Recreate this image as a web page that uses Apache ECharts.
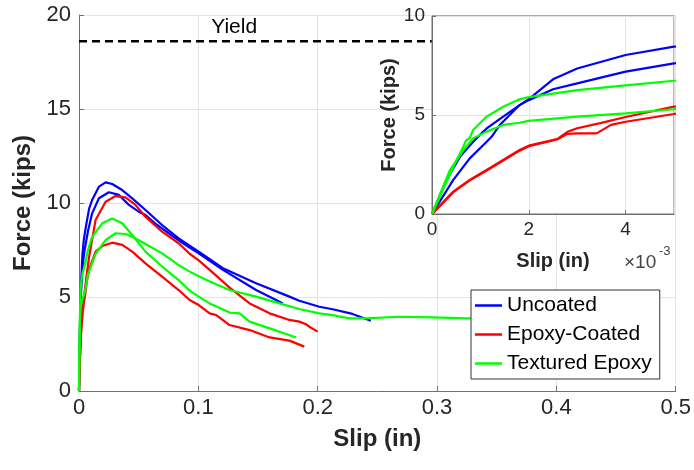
<!DOCTYPE html>
<html>
<head>
<meta charset="utf-8">
<script src="https://cdn.jsdelivr.net/npm/echarts@6/dist/echarts.min.js"></script>
<style>html,body{margin:0;padding:0;background:#fff}#c{width:694px;height:470px}</style>
</head>
<body>
<div id="c"></div>
<script>
// ---- data: [slip (in), force (kips)] ----
const uncoated1 = [[0,0],[0.00044,1.72],[0.00078,2.81],[0.00113,3.65],[0.00123,3.9],[0.0014,4.49],[0.00181,5.5],[0.002,5.8],[0.0025,6.8],[0.003,7.35],[0.004,8.03],[0.005,8.45],[0.0065,9.0],[0.0085,9.7],[0.011,10.16],[0.0167,10.87],[0.0223,11.1],[0.0278,11.01],[0.0362,10.69],[0.0446,10.25],[0.0557,9.63],[0.0696,8.83],[0.0835,8.12],[0.1003,7.41],[0.1206,6.53],[0.1484,5.73],[0.1763,5.02],[0.1846,4.8],[0.2014,4.48],[0.2125,4.35],[0.2292,4.1],[0.2445,3.74]];
const uncoated2 = [[0,0],[0.0003,1.72],[0.00058,2.9],[0.00085,3.65],[0.00102,4.07],[0.00113,4.32],[0.00147,4.92],[0.00181,5.5],[0.002,5.75],[0.0025,6.3],[0.003,6.6],[0.004,7.19],[0.005,7.61],[0.0075,8.5],[0.011,9.45],[0.0167,10.25],[0.025,10.57],[0.0334,10.43],[0.0418,9.9],[0.05,9.54],[0.0557,9.36],[0.064,8.9],[0.0752,8.39],[0.089,7.77],[0.1003,7.32],[0.1206,6.44],[0.1484,5.37],[0.168,4.75],[0.1706,4.66]];
const epoxy1 = [[0,0],[0.00044,1.13],[0.00078,1.72],[0.00113,2.22],[0.00181,3.23],[0.002,3.45],[0.0025,3.74],[0.0026,3.8],[0.0028,4.15],[0.003,4.33],[0.0035,4.6],[0.004,4.9],[0.005,5.42],[0.0065,6.2],[0.0084,7.1],[0.0139,9.1],[0.0223,10.07],[0.0306,10.37],[0.039,10.3],[0.0473,9.9],[0.0557,9.27],[0.0696,8.48],[0.0835,7.86],[0.0927,7.3],[0.1003,6.95],[0.1095,6.44],[0.1262,5.5],[0.143,4.66],[0.1597,4.13],[0.1763,3.78],[0.1846,3.69],[0.1902,3.55],[0.193,3.42],[0.2,3.16]];
const epoxy2 = [[0,0],[0.00044,1.1],[0.00078,1.7],[0.00113,2.2],[0.00181,3.2],[0.002,3.42],[0.0025,3.72],[0.0026,3.78],[0.0028,4.05],[0.003,4.07],[0.0034,4.07],[0.0037,4.5],[0.004,4.66],[0.005,5.05],[0.0065,5.8],[0.0084,6.44],[0.0139,7.41],[0.0195,7.71],[0.0278,7.89],[0.0362,7.77],[0.0446,7.41],[0.0557,6.79],[0.0696,6.08],[0.0835,5.37],[0.0927,4.84],[0.1003,4.57],[0.1095,4.13],[0.115,4.04],[0.1262,3.51],[0.143,3.24],[0.1597,2.85],[0.1763,2.68],[0.1888,2.36]];
const textured1 = [[0,0],[0.00044,2.39],[0.00065,3.41],[0.0007,3.7],[0.00078,3.85],[0.00085,4.24],[0.00113,4.92],[0.00147,5.42],[0.00181,5.79],[0.002,5.9],[0.003,6.26],[0.004,6.5],[0.005,6.73],[0.0075,7.5],[0.011,8.2],[0.0195,8.92],[0.0278,9.18],[0.0362,8.92],[0.0446,8.3],[0.0557,7.41],[0.0696,6.62],[0.0835,5.9],[0.0927,5.34],[0.1003,5.02],[0.1095,4.66],[0.1262,4.17],[0.1345,4.13],[0.143,3.69],[0.1597,3.33],[0.182,2.85]];
const textured2 = [[0,0],[0.00037,2.22],[0.00065,3.23],[0.00085,3.82],[0.00113,4.16],[0.00147,4.5],[0.00181,4.61],[0.002,4.7],[0.003,4.92],[0.004,5.08],[0.005,5.29],[0.0075,6.2],[0.0139,7.3],[0.0223,8.03],[0.0306,8.39],[0.039,8.35],[0.0473,8.12],[0.0557,7.82],[0.0696,7.32],[0.0835,6.7],[0.0927,6.35],[0.1003,6.1],[0.1095,5.82],[0.1262,5.37],[0.1484,5.02],[0.168,4.66],[0.1846,4.36],[0.2014,4.13],[0.2125,4.04],[0.2264,3.86],[0.2403,3.86],[0.2682,3.95],[0.296,3.92],[0.3253,3.86],[0.36,3.9],[0.4,3.88],[0.45,3.9]];
const yieldForce = 18.6;
const yieldLine = [[0, yieldForce], [0.5, yieldForce]];
const yieldLabelPos = [0.13, 19.36];
const legendNames = ['Uncoated', 'Epoxy-Coated', 'Textured Epoxy'];
const colors = ['#0000ff', '#ff0000', '#00ff00'];
const curves = [
  {name: legendNames[0], data: uncoated1, color: colors[0]},
  {name: legendNames[0], data: uncoated2, color: colors[0]},
  {name: legendNames[1], data: epoxy1, color: colors[1]},
  {name: legendNames[1], data: epoxy2, color: colors[1]},
  {name: legendNames[2], data: textured1, color: colors[2]},
  {name: legendNames[2], data: textured2, color: colors[2]}
];

const FONT = '"Liberation Sans", Arial, Helvetica, sans-serif';
const AX = '#707070';
const TXT = '#262626';
const GRID = '#e4e4e4';

const chart = echarts.init(document.getElementById('c'), null, {renderer: 'canvas'});

const series = [];
series.push({
  type: 'line', xAxisIndex: 0, yAxisIndex: 0, data: yieldLine,
  showSymbol: false, symbol: 'none', silent: true, z: 2,
  lineStyle: {color: '#000', width: 2.5, type: [8, 5]},
  markPoint: {
    symbol: 'circle', symbolSize: 0, silent: true,
    data: [{coord: yieldLabelPos}],
    label: {show: true, position: 'inside', formatter: 'Yield', color: '#000', fontSize: 21, fontFamily: FONT}
  }
});
curves.forEach(c => {
  series.push({
    type: 'line', name: c.name, xAxisIndex: 0, yAxisIndex: 0, data: c.data,
    showSymbol: false, symbol: 'none', z: 2, color: c.color,
    lineStyle: {color: c.color, width: 2.2}
  });
});
curves.forEach(c => {
  series.push({
    type: 'line', name: c.name, xAxisIndex: 1, yAxisIndex: 1, data: c.data,
    showSymbol: false, symbol: 'none', z: 6, clip: true, color: c.color,
    lineStyle: {color: c.color, width: 2.2}
  });
});

const option = {
  animation: false,
  backgroundColor: '#fff',
  grid: [
    {left: 79, right: 18, top: 15, bottom: 79, containLabel: false},
    {left: 432, right: 20, top: 16, bottom: 256, containLabel: false, show: true,
     backgroundColor: '#fff', borderColor: AX, borderWidth: 1, z: 4}
  ],
  legend: {
    data: legendNames,
    orient: 'vertical', left: 471, top: 290,
    padding: [5, 8, 5, 4], itemGap: 8,
    icon: 'rect', itemWidth: 27, itemHeight: 2.5,
    backgroundColor: '#fff', borderColor: '#333', borderWidth: 1,
    textStyle: {fontSize: 21, fontFamily: FONT, color: '#000'},
    selectedMode: false, z: 20
  },
  xAxis: [
    {type: 'value', gridIndex: 0, min: 0, max: 0.5, interval: 0.1,
     name: 'Slip (in)', nameLocation: 'middle', nameGap: 36,
     nameTextStyle: {fontSize: 24, fontWeight: 'bold', fontFamily: FONT, color: TXT},
     axisLine: {show: true, lineStyle: {color: AX, width: 1}},
     axisTick: {show: true, inside: true, length: 5, lineStyle: {color: AX}},
     axisLabel: {fontSize: 22, fontFamily: FONT, color: TXT, margin: 6},
     splitLine: {show: true, lineStyle: {color: GRID, width: 1}}},
    {type: 'value', gridIndex: 1, min: 0, max: 0.005, interval: 0.002,
     name: 'Slip (in)', nameLocation: 'middle', nameGap: 37,
     nameTextStyle: {fontSize: 20, fontWeight: 'bold', fontFamily: FONT, color: TXT},
     axisLine: {show: true, lineStyle: {color: AX, width: 1}},
     axisTick: {show: true, inside: true, length: 4, lineStyle: {color: AX}},
     axisLabel: {fontSize: 19, fontFamily: FONT, color: TXT, margin: 6, showMaxLabel: false,
       formatter: v => String(Math.round(v * 1000))},
     splitLine: {show: true, lineStyle: {color: GRID, width: 1}}, z: 5}
  ],
  yAxis: [
    {type: 'value', gridIndex: 0, min: 0, max: 20, interval: 5,
     name: 'Force (kips)', nameLocation: 'middle', nameGap: 36,
     nameTextStyle: {fontSize: 24, fontWeight: 'bold', fontFamily: FONT, color: TXT},
     axisLine: {show: true, lineStyle: {color: AX, width: 1}},
     axisTick: {show: true, inside: true, length: 5, lineStyle: {color: AX}},
     axisLabel: {fontSize: 22, fontFamily: FONT, color: TXT, margin: 8},
     splitLine: {show: true, lineStyle: {color: GRID, width: 1}}},
    {type: 'value', gridIndex: 1, min: 0, max: 10, interval: 5,
     name: 'Force (kips)', nameLocation: 'middle', nameGap: 30,
     nameTextStyle: {fontSize: 20, fontWeight: 'bold', fontFamily: FONT, color: TXT},
     axisLine: {show: true, lineStyle: {color: AX, width: 1}},
     axisTick: {show: true, inside: true, length: 4, lineStyle: {color: AX}},
     axisLabel: {fontSize: 19, fontFamily: FONT, color: TXT, margin: 7},
     splitLine: {show: true, lineStyle: {color: GRID, width: 1}}, z: 5}
  ],
  graphic: [
    {type: 'text', left: 624, top: 253, z: 30,
     style: {text: '×10', fontSize: 19, fontFamily: FONT, fill: '#444'}},
    {type: 'text', left: 659, top: 245, z: 30,
     style: {text: '-3', fontSize: 13, fontFamily: FONT, fill: '#444'}}
  ],
  series: series
};
chart.setOption(option);
</script>
</body>
</html>
